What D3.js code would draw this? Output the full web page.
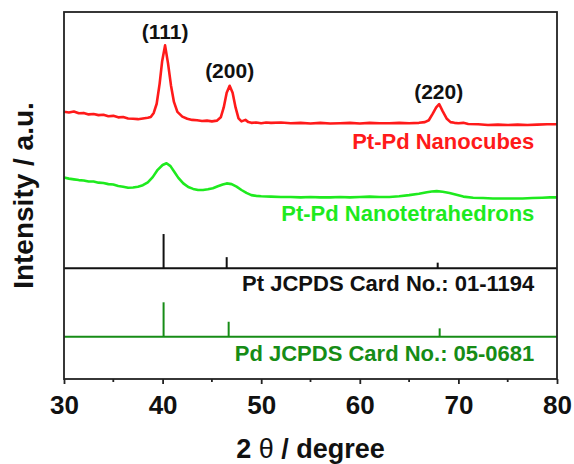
<!DOCTYPE html>
<html>
<head>
<meta charset="utf-8">
<script src="https://cdn.jsdelivr.net/npm/d3@7"></script>
<style>
  body { margin: 0; background: #fff; }
  text { font-family: "Liberation Sans", Arial, sans-serif; font-weight: bold; }
</style>
</head>
<body>
<div id="chart"></div>
<script>
// 2theta (degree) vs intensity (a.u., stacked with offsets)
var cubes = [
  [30.0, 72.8], [30.5, 72.6], [31.0, 72.9], [31.5, 72.4], [32.0, 72.5], [32.5, 72.1],
  [33.0, 72.2], [33.5, 71.9], [34.0, 72.0], [34.5, 71.6], [35.0, 71.7], [35.5, 71.3],
  [36.0, 71.4], [36.5, 71.0], [37.0, 70.9], [37.5, 70.8], [38.0, 71.0], [38.5, 71.2],
  [38.8, 71.4], [39.1, 72.5], [39.4, 75.0], [39.7, 80.5], [39.95, 86.5], [40.25, 90.9],
  [40.55, 86.0], [40.85, 80.0], [41.15, 75.5], [41.5, 72.8], [42.0, 71.5], [42.5, 70.9],
  [43.0, 70.6], [43.5, 70.5], [44.0, 70.3], [44.5, 70.4], [45.0, 70.2], [45.5, 70.4],
  [45.9, 71.3], [46.2, 74.0], [46.5, 78.0], [46.8, 79.9], [47.1, 78.0], [47.4, 74.0],
  [47.7, 71.0], [48.0, 70.2], [48.4, 70.6], [48.7, 70.0], [49.0, 69.8], [49.5, 69.9],
  [50.0, 69.7], [50.5, 69.9], [51.0, 69.8], [52.0, 69.9], [53.0, 69.7], [54.0, 69.8],
  [55.0, 69.6], [56.0, 69.8], [57.0, 69.6], [58.0, 69.7], [59.0, 69.8], [60.0, 69.6],
  [61.0, 69.8], [62.0, 69.7], [63.0, 69.7], [64.0, 69.8], [65.0, 69.7], [66.0, 69.8],
  [66.6, 70.0], [67.0, 70.5], [67.4, 72.3], [67.75, 74.0], [68.05, 74.9], [68.4, 73.0],
  [68.8, 71.0], [69.2, 70.0], [69.6, 69.8], [70.0, 69.7], [70.5, 69.8], [71.0, 69.5],
  [72.0, 69.4], [73.0, 69.2], [74.0, 69.3], [75.0, 69.2], [76.0, 69.3], [77.0, 69.2],
  [78.0, 69.3], [79.0, 69.4], [80.0, 69.4]
];
var tetra = [
  [30.0, 54.9], [30.5, 54.6], [31.0, 54.4], [31.5, 54.2], [32.0, 54.1], [32.5, 53.8],
  [33.0, 53.8], [33.5, 53.5], [34.0, 53.4], [34.5, 53.1], [35.0, 53.0], [35.5, 52.6],
  [36.0, 52.4], [36.5, 52.1], [37.0, 52.2], [37.5, 52.4], [38.0, 52.8], [38.5, 53.6],
  [39.0, 55.0], [39.5, 57.0], [40.0, 58.3], [40.4, 58.8], [40.8, 58.0], [41.2, 56.4],
  [41.6, 54.8], [42.1, 53.3], [42.6, 52.3], [43.1, 51.8], [43.6, 51.5], [44.1, 51.5],
  [44.6, 51.7], [45.1, 52.0], [45.6, 52.5], [46.1, 53.0], [46.5, 53.3], [47.0, 53.1],
  [47.5, 52.4], [48.0, 51.5], [48.5, 50.7], [49.0, 50.1], [49.5, 49.9], [50.0, 49.8],
  [51.0, 49.7], [52.0, 49.6], [53.0, 49.6], [54.0, 49.5], [55.0, 49.6], [56.0, 49.5],
  [57.0, 49.5], [58.0, 49.6], [59.0, 49.5], [60.0, 49.6], [61.0, 49.7], [62.0, 49.6],
  [63.0, 49.6], [64.0, 49.8], [65.0, 50.1], [66.0, 50.5], [66.8, 50.9], [67.3, 51.1],
  [67.8, 51.2], [68.4, 51.0], [69.1, 50.7], [69.8, 50.2], [70.5, 49.7], [71.5, 49.4],
  [72.5, 49.3], [73.5, 49.2], [74.5, 49.2], [75.5, 49.2], [76.5, 49.2], [77.5, 49.3],
  [78.5, 49.4], [79.3, 49.5], [80.0, 49.5]
];
// reference cards: positions, relative heights
var ptPeaks = [[40.1, 9.3], [46.5, 3.0], [67.9, 1.5]];
var pdPeaks = [[40.1, 9.4], [46.7, 4.1], [68.1, 2.3]];
var ptBase = 30.2;
var pdBase = 11.5;
var xTicks = [30, 40, 50, 60, 70, 80];
var xMinor = [35, 45, 55, 65, 75];
var peakLabels = [["(111)", 40.25, 92.6], ["(200)", 46.8, 82.0], ["(220)", 68.0, 76.3]];

var width = 574, height = 464;
var margin = {left: 64, right: 17, top: 12, bottom: 85};

var svg = d3.select("#chart").append("svg")
    .attr("width", width)
    .attr("height", height);

var x = d3.scaleLinear().domain([30, 80]).range([margin.left, width - margin.right]);
var y = d3.scaleLinear().domain([0, 100]).range([height - margin.bottom, margin.top]);

var line = d3.line()
    .x(function(d) { return x(d[0]); })
    .y(function(d) { return y(d[1]); });

var red = "#ff1a1a", green = "#1eea1e", dark = "#168c16";

// stick patterns
function sticks(peaks, base, col) {
    svg.append("line")
        .attr("x1", x(30)).attr("x2", x(80))
        .attr("y1", y(base)).attr("y2", y(base))
        .style("stroke", col).style("stroke-width", 2);
    svg.selectAll(null)
        .data(peaks)
        .enter().append("line")
        .attr("x1", function(d) { return x(d[0]); })
        .attr("x2", function(d) { return x(d[0]); })
        .attr("y1", y(base))
        .attr("y2", function(d) { return y(base + d[1]); })
        .style("stroke", col).style("stroke-width", 2);
}
sticks(ptPeaks, ptBase, "#111");
sticks(pdPeaks, pdBase, dark);

svg.append("path").datum(cubes)
    .attr("d", line)
    .style("fill", "none").style("stroke", red).style("stroke-width", 2.6)
    .style("stroke-linejoin", "round");
svg.append("path").datum(tetra)
    .attr("d", line)
    .style("fill", "none").style("stroke", green).style("stroke-width", 2.6)
    .style("stroke-linejoin", "round");

// frame
svg.append("rect")
    .attr("x", x(30)).attr("y", y(100))
    .attr("width", x(80) - x(30)).attr("height", y(0) - y(100))
    .style("fill", "none").style("stroke", "#222").style("stroke-width", 1.8);

var xAxis = svg.append("g")
    .attr("transform", "translate(0," + y(0) + ")")
    .call(d3.axisBottom(x).tickValues(xTicks).tickSize(5).tickPadding(12).tickFormat(d3.format("d")));
xAxis.select(".domain").remove();
xAxis.selectAll(".tick line").style("stroke", "#222").style("stroke-width", 1.8);
xAxis.selectAll("text").style("font-size", "26px").style("fill", "#111");

svg.append("g").selectAll("line")
    .data(xMinor)
    .enter().append("line")
    .attr("x1", function(d) { return x(d); })
    .attr("x2", function(d) { return x(d); })
    .attr("y1", y(0)).attr("y2", y(0) + 3)
    .style("stroke", "#222").style("stroke-width", 1.8);

// peak labels
svg.selectAll(".hkl")
    .data(peakLabels)
    .enter().append("text")
    .attr("class", "hkl")
    .attr("x", function(d) { return x(d[1]); })
    .attr("y", function(d) { return y(d[2]); })
    .style("text-anchor", "middle")
    .style("font-size", "21px")
    .style("fill", "#111")
    .text(function(d) { return d[0]; });

// series labels
var labels = [
    ["Pt-Pd Nanocubes", 62.6, red],
    ["Pt-Pd Nanotetrahedrons", 43.0, green],
    ["Pt JCPDS Card No.: 01-1194", 24.0, "#111"],
    ["Pd JCPDS Card No.: 05-0681", 4.9, dark]
];
svg.selectAll(".lab")
    .data(labels)
    .enter().append("text")
    .attr("class", "lab")
    .attr("x", x(77.7))
    .attr("y", function(d) { return y(d[1]); })
    .style("text-anchor", "end")
    .style("font-size", "22px")
    .style("fill", function(d) { return d[2]; })
    .text(function(d) { return d[0]; });

// axis titles
var xt = svg.append("text")
    .attr("x", x(55))
    .attr("y", 458)
    .style("text-anchor", "middle")
    .style("font-size", "27px")
    .style("fill", "#111");
xt.append("tspan").text("2 ");
xt.append("tspan").style("font-weight", "normal").text("θ");
xt.append("tspan").text(" / degree");

svg.append("text")
    .attr("transform", "translate(33," + y(50) + ") rotate(-90)")
    .style("text-anchor", "middle")
    .style("font-size", "28px")
    .style("fill", "#111")
    .text("Intensity / a.u.");
</script>
</body>
</html>
